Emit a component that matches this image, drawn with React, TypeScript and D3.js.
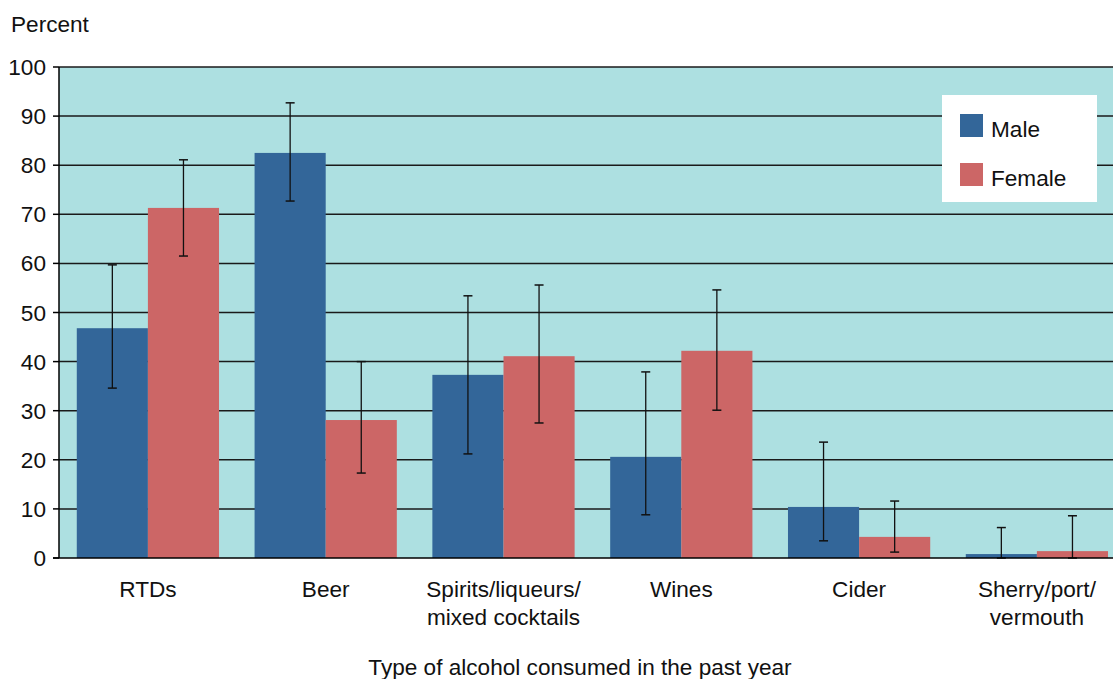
import React from "react";
import * as d3 from "d3";

const categories: string[][] = [
  ["RTDs"],
  ["Beer"],
  ["Spirits/liqueurs/", "mixed cocktails"],
  ["Wines"],
  ["Cider"],
  ["Sherry/port/", "vermouth"],
];
const seriesNames = ["Male", "Female"];
const maleValues = [46.8, 82.5, 37.3, 20.6, 10.4, 0.8];
const maleLow = [34.6, 72.7, 21.2, 8.8, 3.5, 0];
const maleHigh = [59.7, 92.7, 53.4, 37.9, 23.6, 6.2];
const femaleValues = [71.3, 28.1, 41.1, 42.2, 4.3, 1.4];
const femaleLow = [61.5, 17.3, 27.5, 30.1, 1.2, 0];
const femaleHigh = [81.1, 40.0, 55.6, 54.6, 11.6, 8.6];
const yTicks = [0, 10, 20, 30, 40, 50, 60, 70, 80, 90, 100];

const colors = ["#336699", "#cc6666"];
const W = 1113;
const H = 679;
const left = 59;
const top = 67;
const bottom = 558;
const font = "'Liberation Sans', Arial, Helvetica, sans-serif";
const fs = 22.6;

export default function App() {
  const x0 = d3
    .scaleBand<number>()
    .domain(categories.map((_, i) => i))
    .range([left, left + 177.8 * 6])
    .paddingInner(0.2)
    .paddingOuter(0.1);
  const x1 = d3.scaleBand<number>().domain([0, 1]).range([0, x0.bandwidth()]);
  const y = d3.scaleLinear().domain([0, 100]).range([bottom, top]);

  const series = [
    { vals: maleValues, lo: maleLow, hi: maleHigh },
    { vals: femaleValues, lo: femaleLow, hi: femaleHigh },
  ];

  return (
    <svg
      width={W}
      height={H}
      style={{ position: "absolute", left: 0, top: 0, fontFamily: font }}
    >
      <rect x={left} y={top} width={W - left} height={bottom - top} fill="#ade0e1" />
      {yTicks.map((t) => (
        <g key={t}>
          {t > 0 && (
            <line x1={left} x2={W} y1={y(t)} y2={y(t)} stroke="#1a1a1a" strokeWidth={1.5} />
          )}
          <line x1={left - 6} x2={left} y1={y(t)} y2={y(t)} stroke="#000" strokeWidth={1.5} />
          <text x={46} y={y(t) + 8} textAnchor="end" fontSize={fs} fill="#111">
            {t}
          </text>
        </g>
      ))}
      {series.map((s, si) =>
        s.vals.map((v, i) => {
          const bx = (x0(i) as number) + (x1(si) as number);
          const bw = x1.bandwidth();
          const cx = bx + bw / 2;
          return (
            <g key={`${si}-${i}`}>
              <rect x={bx} y={y(v)} width={bw} height={y(0) - y(v)} fill={colors[si]} />
              <line x1={cx} x2={cx} y1={y(s.hi[i])} y2={y(s.lo[i])} stroke="#111" strokeWidth={1.3} />
              <line x1={cx - 4.5} x2={cx + 4.5} y1={y(s.hi[i])} y2={y(s.hi[i])} stroke="#111" strokeWidth={1.5} />
              <line x1={cx - 4.5} x2={cx + 4.5} y1={y(s.lo[i])} y2={y(s.lo[i])} stroke="#111" strokeWidth={1.5} />
            </g>
          );
        })
      )}
      <line x1={left} x2={left} y1={top} y2={bottom} stroke="#000" strokeWidth={1.5} />
      <line x1={left - 6} x2={W} y1={bottom} y2={bottom} stroke="#000" strokeWidth={1.5} />
      <text x={11} y={32} fontSize={fs} fill="#111">
        Percent
      </text>
      {categories.map((lines, i) => (
        <text
          key={i}
          x={(x0(i) as number) + x0.bandwidth() / 2}
          y={597}
          textAnchor="middle"
          fontSize={fs}
          fill="#111"
        >
          {lines.map((l, j) => (
            <tspan key={j} x={(x0(i) as number) + x0.bandwidth() / 2} dy={j === 0 ? 0 : 28}>
              {l}
            </tspan>
          ))}
        </text>
      ))}
      <text x={580} y={675} textAnchor="middle" fontSize={fs} fill="#111">
        Type of alcohol consumed in the past year
      </text>
      <rect x={942} y={95} width={155} height={107} fill="#fff" />
      {seriesNames.map((n, i) => (
        <g key={n}>
          <rect x={960} y={114 + i * 49} width={23} height={23} fill={colors[i]} />
          <text x={991} y={137 + i * 49} fontSize={fs} fill="#111">
            {n}
          </text>
        </g>
      ))}
    </svg>
  );
}
